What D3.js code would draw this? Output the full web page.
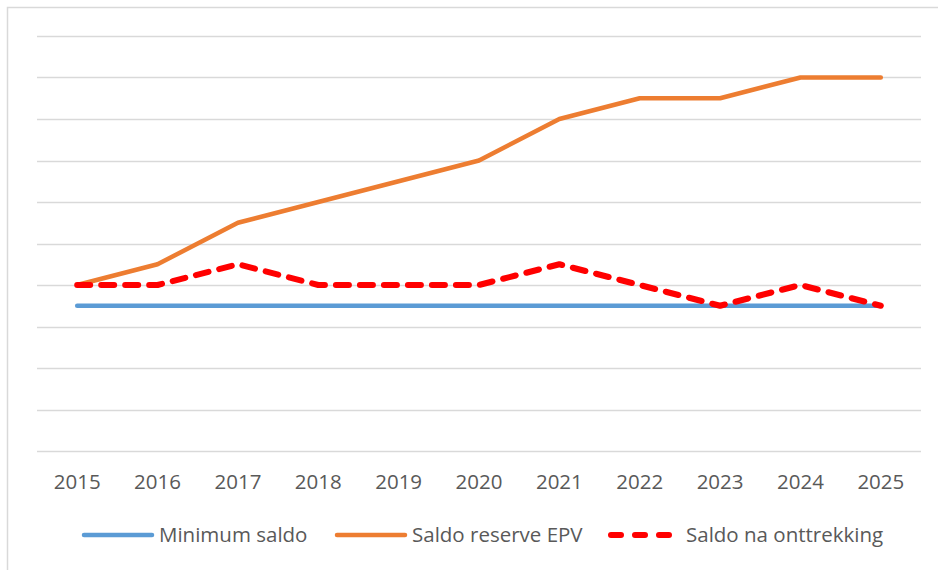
<!DOCTYPE html>
<html>
<head>
<meta charset="utf-8">
<script src="https://cdn.jsdelivr.net/npm/d3@7"></script>
<style>
  body { margin: 0; background: #fff; }
  text { font-family: "Open Sans", "Noto Sans", sans-serif; fill: #595959; }
</style>
</head>
<body>
<svg id="chart" width="938" height="570"></svg>
<script>
// years on the x axis
const years = ['2015', '2016', '2017', '2018', '2019', '2020', '2021', '2022', '2023', '2024', '2025'];
// series values (no y labels in the source, units = gridline steps)
const minimumSaldo = [3.5, 3.5, 3.5, 3.5, 3.5, 3.5, 3.5, 3.5, 3.5, 3.5, 3.5];
const saldoReserve = [4, 4.5, 5.5, 6, 6.5, 7, 8, 8.5, 8.5, 9, 9];
const saldoNaOnttrekking = [4, 4, 4.5, 4, 4, 4, 4.5, 4, 3.5, 4, 3.5];
const seriesNames = ['Minimum saldo', 'Saldo reserve EPV', 'Saldo na onttrekking'];

const svg = d3.select('#chart');

// chart frame (right/bottom edges cropped off in the source)
svg.append('rect')
    .attr('x', 7.5).attr('y', 7.5)
    .attr('width', 940).attr('height', 580)
    .attr('fill', 'none').attr('stroke', '#d9d9d9').attr('stroke-width', 1.5);

const x = d3.scaleBand()
    .domain(years)
    .range([37, 921]);

const y = d3.scaleLinear()
    .domain([0, 10])
    .range([451, 36]);

// horizontal gridlines
svg.append('g')
    .selectAll('line')
    .data(y.ticks(10))
    .join('line')
    .attr('x1', 37).attr('x2', 921)
    .attr('y1', d => Math.round(y(d)) + 0.5)
    .attr('y2', d => Math.round(y(d)) + 0.5)
    .attr('stroke', '#d9d9d9').attr('stroke-width', 1.3);

// x axis labels
const xAxis = d3.axisBottom(x).tickSize(0).tickPadding(23);
const gx = svg.append('g')
    .attr('transform', `translate(0, ${y(0)})`)
    .call(xAxis);
gx.select('.domain').remove();
gx.selectAll('text')
    .attr('font-size', 20.5)
    .attr('font-family', '"Open Sans", sans-serif')
    .attr('fill', '#595959');

const line = d3.line()
    .x((d, i) => x(years[i]) + x.bandwidth() / 2)
    .y(d => y(d));

const series = [
    { name: seriesNames[0], values: minimumSaldo, color: '#5b9bd5', width: 4.5, dash: null },
    { name: seriesNames[1], values: saldoReserve, color: '#ed7d31', width: 4.5, dash: null },
    { name: seriesNames[2], values: saldoNaOnttrekking, color: '#ff0000', width: 6, dash: '13 11' }
];

series.forEach(s => {
    svg.append('path')
        .datum(s.values)
        .attr('d', line)
        .attr('fill', 'none')
        .attr('stroke', s.color)
        .attr('stroke-width', s.width)
        .attr('stroke-linejoin', 'round')
        .attr('stroke-linecap', 'round')
        .attr('stroke-dasharray', s.dash);
});

// legend
const legendX = [84, 337, 611];
const legend = svg.append('g').attr('transform', 'translate(0, 535)');
series.forEach((s, i) => {
    const g = legend.append('g').attr('transform', `translate(${legendX[i]}, 0)`);
    g.append('line')
        .attr('x1', 0).attr('x2', 68)
        .attr('y1', 0).attr('y2', 0)
        .attr('stroke', s.color)
        .attr('stroke-width', s.width)
        .attr('stroke-linecap', 'round')
        .attr('stroke-dasharray', s.dash ? '10 14' : null);
    g.append('text')
        .attr('x', 75).attr('y', 7)
        .attr('font-size', 20.5)
        .text(s.name);
});
</script>
</body>
</html>
